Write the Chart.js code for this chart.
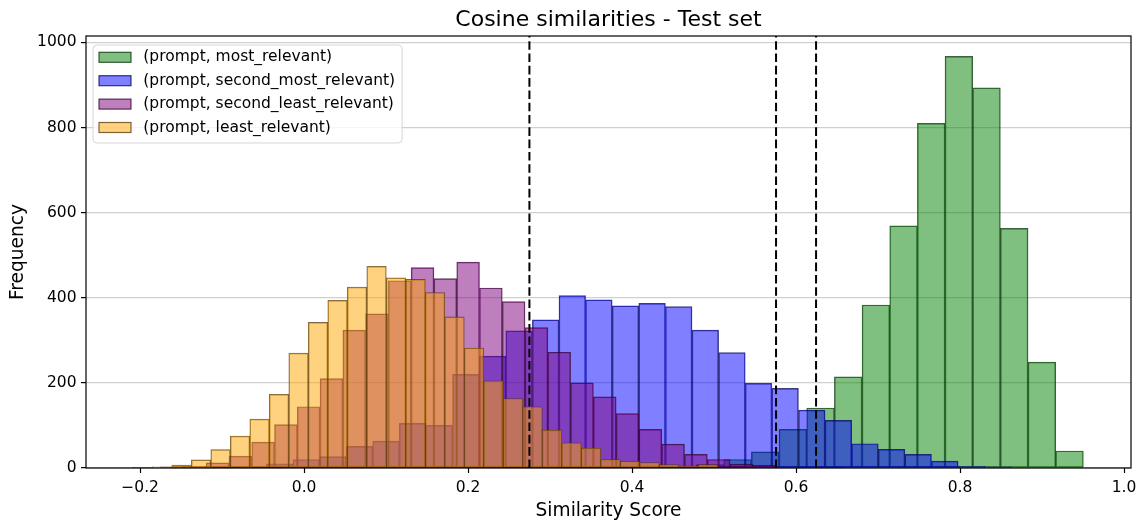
<!DOCTYPE html>
<html>
<head>
<meta charset="utf-8">
<script src="https://cdn.jsdelivr.net/npm/chart.js@4.4.1/dist/chart.umd.min.js"></script>
<style>
html,body{margin:0;padding:0;background:#fff;}
#wrap{width:1143px;height:529px;position:relative;}
</style>
</head>
<body>
<div id="wrap"><canvas id="c" width="1143" height="529"></canvas></div>
<script>
// ---- data ----
const seriesLabels = [
  '(prompt, most_relevant)',
  '(prompt, second_most_relevant)',
  '(prompt, second_least_relevant)',
  '(prompt, least_relevant)'
];
// bin structure of each histogram (first edge, bin width), 30 bins each
const greenBinStart = -0.0618, greenBinWidth = 0.03374;
const blueBinStart = -0.1110, blueBinWidth = 0.03245;
const purpleBinStart = -0.1750, purpleBinWidth = 0.02778;
const orangeBinStart = -0.2089, orangeBinWidth = 0.02378;

const greenCounts = [1,0,0,0,0,0,0,0,0,1,0,1,1,1,2,4,8,20,38,91,141,214,383,569,810,967,893,563,249,40];
const blueCounts = [1,3,10,20,27,51,63,105,100,220,263,322,348,405,395,381,387,379,324,271,199,187,136,112,57,44,32,16,4,3];
const purpleCounts = [3,4,12,28,61,102,144,210,324,362,440,471,445,484,423,391,330,272,200,167,128,91,56,32,20,9,6,2,1,1];
const orangeCounts = [1,3,7,19,43,75,115,173,270,342,394,425,474,447,443,412,355,282,205,163,144,89,59,47,20,16,13,8,5,8];

const thresholdValues = [0.2748, 0.5756, 0.6244];

const xTickValues = [-0.2, 0.0, 0.2, 0.4, 0.6, 0.8, 1.0];
const yTickValues = [0, 200, 400, 600, 800, 1000];
const xMin = -0.266, xMax = 1.0085;
const yMin = 0, yMax = 1015;

// ---- styles ----
const faceColors = ['rgba(0,128,0,0.5)', 'rgba(0,0,255,0.5)', 'rgba(128,0,128,0.5)', 'rgba(255,165,0,0.5)'];
const edgeColors = ['rgba(0,43,0,0.75)', 'rgba(0,0,85,0.75)', 'rgba(43,0,43,0.75)', 'rgba(85,55,0,0.75)'];
const FONT = 'DejaVu Sans';

function histPoints(start, width, counts) {
  return counts.map((c, i) => ({ x: start + (i + 0.5) * width, y: c }));
}

const hists = [
  { axis: 'xGreen', pts: histPoints(greenBinStart, greenBinWidth, greenCounts) },
  { axis: 'xBlue', pts: histPoints(blueBinStart, blueBinWidth, blueCounts) },
  { axis: 'xPurple', pts: histPoints(purpleBinStart, purpleBinWidth, purpleCounts) },
  { axis: 'xOrange', pts: histPoints(orangeBinStart, orangeBinWidth, orangeCounts) }
];

const datasets = hists.map((h, i) => ({
  type: 'bar',
  label: seriesLabels[i],
  data: h.pts,
  xAxisID: h.axis,
  yAxisID: 'y',
  backgroundColor: faceColors[i],
  borderColor: edgeColors[i],
  borderWidth: 0.8,
  borderSkipped: false,
  barPercentage: 1,
  categoryPercentage: 1,
  grouped: false,
  order: 4 - i
}));

thresholdValues.forEach(v => {
  datasets.push({
    type: 'line',
    label: 'threshold',
    data: [{ x: v, y: yMin }, { x: v, y: yMax }],
    xAxisID: 'x',
    yAxisID: 'y',
    borderColor: '#000',
    borderWidth: 2,
    borderDash: [8.6, 3.7],
    pointRadius: 0,
    fill: false,
    order: 0
  });
});

function hiddenX() {
  return { type: 'linear', axis: 'x', display: false, min: xMin, max: xMax, offset: false,
           grid: { offset: false }, ticks: { stepSize: 0.5, includeBounds: false } };
}

const framePlugin = {
  id: 'frameAndLegend',
  afterDraw(chart) {
    const ctx = chart.ctx, a = chart.chartArea;
    ctx.save();
    // axes frame (spines)
    ctx.strokeStyle = '#000';
    ctx.lineWidth = 1.2;
    ctx.strokeRect(a.left, a.top, a.right - a.left, a.bottom - a.top);
    // legend
    const fs = 15.5;
    ctx.font = fs + 'px "' + FONT + '"';
    let maxW = 0;
    seriesLabels.forEach(t => { maxW = Math.max(maxW, ctx.measureText(t).width); });
    const x0 = a.left + 7, y0 = a.top + 9;
    const textOff = 50.3;
    const w = textOff + maxW + 7, h = 98;
    const r = 4;
    ctx.beginPath();
    ctx.moveTo(x0 + r, y0);
    ctx.lineTo(x0 + w - r, y0);
    ctx.arcTo(x0 + w, y0, x0 + w, y0 + r, r);
    ctx.lineTo(x0 + w, y0 + h - r);
    ctx.arcTo(x0 + w, y0 + h, x0 + w - r, y0 + h, r);
    ctx.lineTo(x0 + r, y0 + h);
    ctx.arcTo(x0, y0 + h, x0, y0 + h - r, r);
    ctx.lineTo(x0, y0 + r);
    ctx.arcTo(x0, y0, x0 + r, y0, r);
    ctx.closePath();
    ctx.fillStyle = 'rgba(255,255,255,0.8)';
    ctx.fill();
    ctx.strokeStyle = 'rgba(204,204,204,0.8)';
    ctx.lineWidth = 1;
    ctx.stroke();
    seriesLabels.forEach((t, i) => {
      const cy = y0 + 12.3 + i * 23.4;
      ctx.fillStyle = faceColors[i];
      ctx.fillRect(x0 + 6, cy - 5, 32, 10);
      ctx.strokeStyle = edgeColors[i];
      ctx.lineWidth = 1.2;
      ctx.strokeRect(x0 + 6, cy - 5, 32, 10);
      ctx.fillStyle = '#000';
      ctx.textBaseline = 'middle';
      ctx.textAlign = 'left';
      ctx.fillText(t, x0 + textOff, cy);
    });
    ctx.restore();
  }
};

const fmtTick = v => v.toFixed(1).replace('-', '\u2212');

new Chart(document.getElementById('c'), {
  type: 'bar',
  data: { datasets },
  options: {
    responsive: false,
    animation: false,
    devicePixelRatio: 1,
    layout: { padding: { left: 7, right: 12, top: 0, bottom: 6.8 } },
    plugins: {
      legend: { display: false },
      tooltip: { enabled: false },
      title: {
        display: true,
        fullSize: false,
        text: 'Cosine similarities - Test set',
        color: '#000',
        font: { family: FONT, size: 22, weight: 'normal', lineHeight: 1.2 },
        padding: { top: 7.5, bottom: 2.1 }
      }
    },
    scales: {
      x: {
        type: 'linear', min: xMin, max: xMax, offset: false,
        afterBuildTicks: s => { s.ticks = xTickValues.map(v => ({ value: v })); },
        afterFit: s => { s.height = 54.2; },
        grid: { offset: false, drawOnChartArea: false, drawTicks: true, tickLength: 5, tickColor: '#000', tickWidth: 1.2 },
        border: { display: false },
        ticks: { color: '#000', font: { family: FONT, size: 15.5 }, padding: 6, maxRotation: 0, autoSkip: false,
                 callback: v => fmtTick(v) },
        title: { display: true, text: 'Similarity Score', color: '#000', font: { family: FONT, size: 18.6 }, padding: 0 }
      },
      xGreen: hiddenX(),
      xBlue: hiddenX(),
      xPurple: hiddenX(),
      xOrange: hiddenX(),
      y: {
        type: 'linear', min: yMin, max: yMax, z: 1,
        afterBuildTicks: s => { s.ticks = yTickValues.map(v => ({ value: v })); },
        afterFit: s => { s.width = 79; },
        grid: { color: 'rgba(150,150,150,0.45)', lineWidth: 1.2, drawTicks: true, tickLength: 5, tickColor: '#000', tickWidth: 1.2 },
        border: { display: false },
        ticks: { color: '#000', font: { family: FONT, size: 15.5 }, padding: 4.5, autoSkip: false,
                 callback: v => String(v) },
        title: { display: true, text: 'Frequency', color: '#000', font: { family: FONT, size: 18.6 }, padding: 0 }
      }
    }
  },
  plugins: [framePlugin]
});
</script>
</body>
</html>
